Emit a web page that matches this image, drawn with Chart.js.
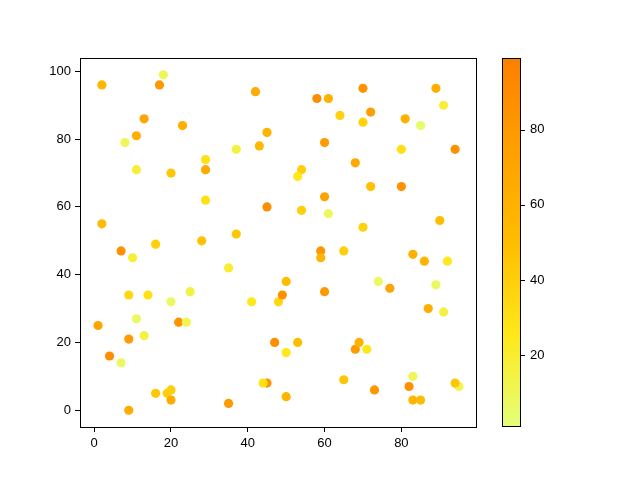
<!DOCTYPE html>
<html>
<head>
<meta charset="utf-8">
<script src="https://cdn.jsdelivr.net/npm/chart.js@4.4.1/dist/chart.umd.min.js"></script>
<style>
  html, body { margin: 0; padding: 0; background: #fff; overflow: hidden; }
  canvas { display: block; }
</style>
</head>
<body>
<canvas id="scatter" width="640" height="480"></canvas>
<script>
// points: x, y and colour value
const xs = [2, 18, 17, 42, 13, 23, 45, 11, 8, 43, 37, 29, 29, 11, 20, 29, 45, 2, 37, 16, 28,
            70, 89, 58, 61, 91, 64, 72, 70, 81, 85, 60, 80, 94, 68, 54, 53, 72, 80, 60, 54, 61, 90, 70,
            7, 10, 35, 9, 14, 20, 25, 41, 48, 49, 11, 22, 24, 1, 9, 13, 47, 4, 7, 45, 44, 16, 19, 20, 20, 35, 9,
            59, 59, 65, 83, 86, 92, 50, 60, 74, 77, 89, 87, 91, 53, 50, 68, 69, 71, 65, 73, 83, 82, 95, 94, 83, 85, 50];
const ys = [96, 99, 96, 94, 86, 84, 82, 81, 79, 78, 77, 74, 71, 71, 70, 62, 60, 55, 52, 49, 50,
            95, 95, 92, 92, 90, 87, 88, 85, 86, 84, 79, 77, 77, 73, 71, 69, 66, 66, 63, 59, 58, 56, 54,
            47, 45, 42, 34, 34, 32, 35, 32, 32, 34, 27, 26, 26, 25, 21, 22, 20, 16, 14, 8, 8, 5, 5, 6, 3, 2, 0,
            47, 45, 47, 46, 44, 44, 38, 35, 38, 36, 37, 30, 29, 20, 17, 18, 20, 18, 9, 6, 10, 7, 7, 8, 3, 3, 4];
const cs = [55, 10, 80, 65, 70, 62, 58, 62, 10, 55, 15, 30, 68, 18, 45, 30, 88, 52, 45, 40, 48,
            85, 62, 88, 60, 18, 38, 75, 38, 60, 5, 78, 30, 85, 68, 40, 25, 48, 85, 72, 40, 8, 50, 38,
            85, 18, 20, 35, 30, 8, 15, 25, 35, 85, 8, 85, 12, 70, 78, 15, 88, 88, 8, 85, 30, 45, 40, 40, 65, 80, 65,
            82, 58, 40, 62, 58, 25, 50, 80, 8, 72, 8, 62, 15, 50, 25, 78, 60, 25, 45, 82, 10, 85, 12, 45, 55, 52, 58];

const xTicks = [0, 20, 40, 60, 80];
const yTicks = [0, 20, 40, 60, 80, 100];
const cTicks = [20, 40, 60, 80];
const cMin = 1, cMax = 99;

// matplotlib "Wistia" colour map
const wistia = [
  [0.00, [228, 255, 122]],
  [0.25, [255, 232, 26]],
  [0.50, [255, 189, 0]],
  [0.75, [255, 160, 0]],
  [1.00, [252, 127, 0]]
];
function cmap(v) {
  let t = Math.min(1, Math.max(0, (v - cMin) / (cMax - cMin)));
  for (let i = 1; i < wistia.length; i++) {
    const [t1, c1] = wistia[i];
    const [t0, c0] = wistia[i - 1];
    if (t <= t1) {
      const f = (t - t0) / (t1 - t0);
      const c = c0.map((a, k) => Math.round(a + (c1[k] - a) * f));
      return `rgb(${c[0]},${c[1]},${c[2]})`;
    }
  }
  return 'rgb(252,127,0)';
}

const points = xs.map((x, i) => ({ x: x, y: ys[i] }));
const colors = cs.map(cmap);

const font = { family: "'Liberation Sans', Arial, sans-serif", size: 13 };

// frame round the axes and the colour bar beside it
const framePlugin = {
  id: 'frame',
  afterDraw: (chart) => {
    const { ctx, chartArea: a, scales } = chart;
    ctx.save();
    ctx.strokeStyle = '#000';
    ctx.lineWidth = 1;
    ctx.strokeRect(a.left + 0.5, a.top + 0.5, a.right - a.left - 1, a.bottom - a.top);

    const cs_ = scales.c;
    const x0 = 502, x1 = 520;
    const top = cs_.getPixelForValue(cMax), bot = cs_.getPixelForValue(cMin);
    const g = ctx.createLinearGradient(0, bot, 0, top);
    wistia.forEach(([t, c]) => g.addColorStop(t, `rgb(${c[0]},${c[1]},${c[2]})`));
    ctx.fillStyle = g;
    ctx.fillRect(x0, top, x1 - x0, bot - top);
    ctx.strokeRect(x0 + 0.5, top + 0.5, x1 - x0, bot - top - 1);

    ctx.beginPath();
    cTicks.forEach(v => {
      const y = Math.round(cs_.getPixelForValue(v)) + 0.5;
      ctx.moveTo(x1 + 0.5, y);
      ctx.lineTo(x1 + 5, y);
    });
    ctx.stroke();
    ctx.restore();
  }
};

new Chart(document.getElementById('scatter').getContext('2d'), {
  type: 'scatter',
  data: {
    datasets: [{
      data: points,
      pointBackgroundColor: colors,
      pointBorderWidth: 0,
      pointRadius: 4.6,
      pointHoverRadius: 4.6
    }]
  },
  options: {
    responsive: false, animation: false,
    devicePixelRatio: 1,
    layout: { autoPadding: false, padding: { top: 58, left: 0, right: 0, bottom: 0 } },
    scales: {
      x: {
        type: 'linear', min: -3.7, max: 99.7,
        afterBuildTicks: (s) => { s.ticks = xTicks.map(v => ({ value: v })); },
        afterFit: (s) => { s.height = 53; },
        grid: { drawOnChartArea: false, tickLength: 5, color: '#000' },
        border: { display: false },
        ticks: { color: '#000', font: font, padding: 4 }
      },
      y: {
        type: 'linear', min: -4.95, max: 103.95,
        afterBuildTicks: (s) => { s.ticks = yTicks.map(v => ({ value: v })); },
        afterFit: (s) => { s.width = 80; },
        grid: { drawOnChartArea: false, tickLength: 5, color: '#000' },
        border: { display: false },
        ticks: { color: '#000', font: font, padding: 4 }
      },
      c: {
        // invisible long tick marks push the labels out past the colour bar
        type: 'linear', position: 'right', min: cMin, max: cMax,
        afterBuildTicks: (s) => { s.ticks = cTicks.map(v => ({ value: v })); },
        afterFit: (s) => { s.width = 163; },
        grid: { drawOnChartArea: false, tickLength: 49, color: 'rgba(0,0,0,0)' },
        border: { display: false },
        ticks: { color: '#000', font: font, padding: 4 }
      }
    },
    plugins: { legend: { display: false }, tooltip: { enabled: false } }
  },
  plugins: [framePlugin]
});
</script>
</body>
</html>
